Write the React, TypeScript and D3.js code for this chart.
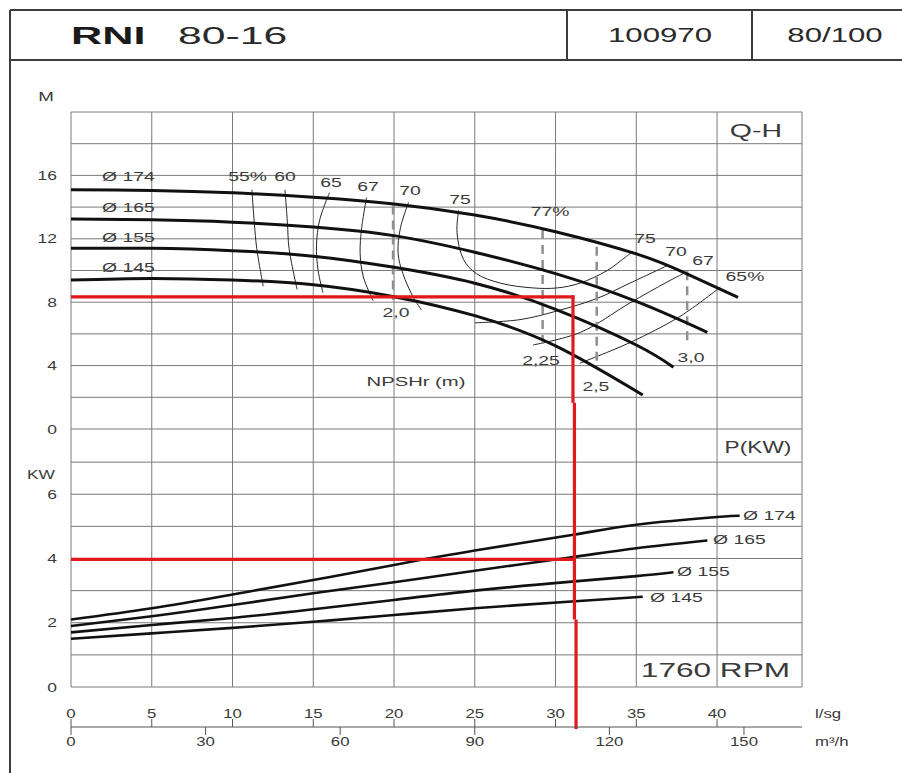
import React from 'react';
import * as d3 from 'd3';

// ---------- data ----------
const flowTicksLs = [0, 5, 10, 15, 20, 25, 30, 35, 40];
const flowTicksM3h = [0, 30, 60, 90, 120, 150];
const headTicks = [0, 4, 8, 12, 16];
const powerTicks = [0, 2, 4, 6];
const headGridValues = [0, 2, 4, 6, 8, 10, 12, 14, 16, 18, 20];
const powerGridValues = [0, 1, 2, 3, 4, 5, 6, 7];

const diameterNames = ['Ø 174', 'Ø 165', 'Ø 155', 'Ø 145'];

// Q (l/s), H (m)
const head174 = [[0, 15.1], [5, 15.05], [10, 14.9], [15, 14.62], [20, 14.2], [25, 13.5], [30, 12.45], [35, 11.05], [38, 9.85], [41.3, 8.3]];
const head165 = [[0, 13.25], [5, 13.2], [10, 13.05], [15, 12.75], [20, 12.2], [25, 11.15], [30, 9.8], [35, 8.05], [39.4, 6.1]];
const head155 = [[0, 11.4], [5, 11.4], [10, 11.25], [15, 10.9], [20, 10.2], [25, 9.2], [30, 7.55], [35, 5.3], [37.3, 3.9]];
const head145 = [[0, 9.4], [5, 9.5], [10, 9.4], [15, 9.1], [20, 8.35], [25, 7.15], [30, 5.25], [35.4, 2.15]];

// Q (l/s), P (kW)
const power174 = [[0, 2.1], [5, 2.45], [10, 2.88], [15, 3.33], [20, 3.8], [25, 4.25], [31, 4.73], [35, 5.05], [40, 5.29], [41.4, 5.33]];
const power165 = [[0, 1.9], [5, 2.2], [10, 2.55], [15, 2.92], [20, 3.26], [25, 3.62], [31, 4.04], [35, 4.32], [39.4, 4.56]];
const power155 = [[0, 1.7], [5, 1.93], [10, 2.15], [15, 2.42], [20, 2.71], [25, 3.0], [31, 3.28], [35, 3.45], [37.3, 3.57]];
const power145 = [[0, 1.5], [5, 1.67], [10, 1.84], [15, 2.03], [20, 2.24], [25, 2.45], [31, 2.66], [35.4, 2.81]];

// efficiency iso-lines (Q, H)
const eff55 = [[11.2, 15.1], [11.35, 13.0], [11.5, 11.4], [11.9, 9.0]];
const eff60 = [[13.25, 15.1], [13.4, 13.0], [13.5, 11.4], [14.0, 8.8]];
const eff65a = [[16.0, 14.9], [15.4, 13.2], [15.2, 11.6], [15.3, 10.0], [15.6, 8.6]];
const eff67a = [[18.3, 14.6], [18.0, 12.7], [17.9, 11.1], [18.1, 9.6], [18.7, 8.1]];
const eff70a = [[20.9, 14.3], [20.4, 12.7], [20.25, 11.1], [20.55, 9.8], [21.2, 8.3], [21.7, 7.5]];
const eff75 = [[24.0, 13.8], [23.9, 12.4], [24.3, 10.7], [25.1, 9.8], [26.6, 9.2], [28.6, 8.9], [30.1, 8.9], [31.5, 9.2], [33.2, 10.0], [34.4, 10.9], [34.8, 11.2]];
const eff70b = [[25.0, 6.7], [27.8, 6.9], [30.1, 7.45], [32.6, 8.25], [34.6, 9.2], [36.9, 10.3]];
const eff67b = [[28.6, 5.3], [31.55, 6.1], [34.6, 7.95], [36.9, 9.27], [38.1, 9.9]];
const eff65b = [[31.5, 4.15], [34.6, 5.45], [37.7, 7.1], [40.2, 8.95]];

const effLabelText = ['55%', '60', '65', '67', '70', '75', '77%', '75', '70', '67', '65%'];
const effLabelQ = [10.93, 13.25, 16.1, 18.39, 20.99, 24.09, 29.66, 35.54, 37.46, 39.13, 41.73];
const effLabelH = [15.9, 15.9, 15.55, 15.27, 15.02, 14.51, 13.75, 12.05, 11.17, 10.6, 9.65];

// NPSH required markers
const npshText = ['2,0', '2,25', '2,5', '3,0'];
const npshQ = [19.94, 29.2, 32.55, 38.15];
const npshTop = [14.1, 12.55, 11.5, 9.95];
const npshBottom = [8.15, 5.15, 3.9, 5.45];
const npshLabelQ = [20.12, 29.1, 32.5, 38.39];
const npshLabelH = [7.38, 4.35, 2.71, 4.48];

const headLabelQ = 1.92;
const headLabelH = [15.93, 14.0, 12.11, 10.22];
const powerLabelQ = [41.61, 39.75, 37.52, 35.85];
const powerLabelP = [5.33, 4.58, 3.61, 2.8];

// duty point
const dutyHead = 8.33;
const dutyPower = 3.97;
const dutyQ = [31.08, 31.17, 31.27];
const dutyBreakHead = 1.65;
const dutyBreakPower = 2.1;

// ---------- layout ----------
const W = 902;
const H = 773;
const FONT = "'Liberation Sans', Arial, Helvetica, sans-serif";

const x = d3.scaleLinear().domain([0, 45.26]).range([71, 802]);
const xM3h = d3.scaleLinear().domain([0, 45.26 * 3.6]).range([71, 802]);
const yH = d3.scaleLinear().domain([0, 20]).range([429, 112]);
const yP = d3.scaleLinear().domain([0, 8]).range([687, 430]);
const axisY = 727;

const lineEff = d3.line<number[]>().x(d => x(d[0])).y(d => yH(d[1])).curve(d3.curveCatmullRom.alpha(0.5));
const lineH = d3.line<number[]>().x(d => x(d[0])).y(d => yH(d[1])).curve(d3.curveNatural);
const lineP = d3.line<number[]>().x(d => x(d[0])).y(d => yP(d[1])).curve(d3.curveNatural);

function Txt(props: any) {
  const { x, y, s = 12.5, sx = 1.5, anchor = 'start', w = 400, fill = '#3a3a3a', children } = props;
  return (
    <text
      transform={`translate(${x},${y}) scale(${sx},1)`}
      fontSize={s}
      fontWeight={w}
      textAnchor={anchor}
      fill={fill}
      fontFamily={FONT}
    >
      {children}
    </text>
  );
}

export default function App() {
  const headCurves = [head174, head165, head155, head145];
  const powerCurves = [power174, power165, power155, power145];
  const effLines = [eff55, eff60, eff65a, eff67a, eff70a, eff75, eff70b, eff67b, eff65b];
  const gridColor = '#7a7a7a';
  const red = '#e0191f';

  return (
    <svg width={W} height={H} viewBox={`0 0 ${W} ${H}`} style={{ position: 'absolute', left: 0, top: 0, background: '#fff' }}>
      <rect x={0} y={0} width={W} height={H} fill="#fff" />

      {/* frame and header */}
      <g stroke="#3c3c3c" strokeWidth={2} fill="none">
        <line x1={10} y1={10} x2={W} y2={10} />
        <line x1={10} y1={60} x2={W} y2={60} />
        <line x1={10} y1={10} x2={10} y2={H} />
        <line x1={567} y1={10} x2={567} y2={60} />
        <line x1={752} y1={10} x2={752} y2={60} />
      </g>
      <Txt x={71} y={44} s={24} sx={1.8} w={900} fill="#1a1a1a">RNI</Txt>
      <Txt x={178} y={44} s={24} sx={1.78} fill="#2a2a2a">80-16</Txt>
      <Txt x={660} y={42} s={19.5} sx={1.6} anchor="middle" fill="#2a2a2a">100970</Txt>
      <Txt x={835} y={42} s={19.5} sx={1.6} anchor="middle" fill="#2a2a2a">80/100</Txt>

      {/* grid */}
      <g stroke={gridColor} strokeWidth={1}>
        {headGridValues.map(v => (
          <line key={'hg' + v} x1={x(0)} x2={x.range()[1]} y1={yH(v)} y2={yH(v)} />
        ))}
        {powerGridValues.map(v => (
          <line key={'pg' + v} x1={x(0)} x2={x.range()[1]} y1={yP(v)} y2={yP(v)} />
        ))}
        {flowTicksLs.map(v => (
          <line key={'vg' + v} x1={x(v)} x2={x(v)} y1={yH(20)} y2={yP(0)} />
        ))}
        <line x1={x.range()[1]} x2={x.range()[1]} y1={yH(20)} y2={yP(0)} />
      </g>

      {/* axis labels left */}
      <Txt x={46} y={101} s={12.5} sx={1.5} anchor="middle">M</Txt>
      {headTicks.map(v => (
        <Txt key={'ht' + v} x={57} y={yH(v) + 4.5} s={12.5} sx={1.4} anchor="end">{v}</Txt>
      ))}
      <Txt x={55} y={479} s={12} sx={1.45} anchor="end">KW</Txt>
      {powerTicks.map(v => (
        <Txt key={'pt' + v} x={57} y={yP(v) + 4.5} s={12.5} sx={1.4} anchor="end">{v}</Txt>
      ))}

      {/* corner labels */}
      <Txt x={756} y={137} s={19} sx={1.5} anchor="middle">Q-H</Txt>
      <Txt x={758} y={453} s={16} sx={1.42} anchor="middle">P(KW)</Txt>
      <Txt x={790} y={677} s={20.5} sx={1.54} anchor="end">1760 RPM</Txt>

      {/* efficiency iso-lines */}
      <g fill="none" stroke="#262626" strokeWidth={1}>
        {effLines.map((d, i) => (
          <path key={'eff' + i} d={lineEff(d) || ''} />
        ))}
      </g>

      {/* NPSH markers */}
      <g stroke="#8f8f8f" strokeWidth={2.5} strokeDasharray="9 6">
        {npshQ.map((q, i) => (
          <line key={'np' + i} x1={x(q)} x2={x(q)} y1={yH(npshTop[i])} y2={yH(npshBottom[i])} />
        ))}
      </g>

      {/* head curves */}
      <g fill="none" stroke="#111" strokeWidth={3} strokeLinecap="butt">
        {headCurves.map((d, i) => (
          <path key={'hc' + i} d={lineH(d) || ''} />
        ))}
      </g>

      {/* power curves */}
      <g fill="none" stroke="#111" strokeWidth={2.6}>
        {powerCurves.map((d, i) => (
          <path key={'pc' + i} d={lineP(d) || ''} />
        ))}
      </g>

      {/* labels */}
      {effLabelText.map((t, i) => (
        <Txt key={'el' + i} x={x(effLabelQ[i])} y={yH(effLabelH[i]) + 4.5} s={12.5} sx={1.55} anchor="middle">{t}</Txt>
      ))}
      {npshText.map((t, i) => (
        <Txt key={'nl' + i} x={x(npshLabelQ[i])} y={yH(npshLabelH[i]) + 4.5} s={12.5} sx={1.55} anchor="middle">{t}</Txt>
      ))}
      <Txt x={x(21.36)} y={yH(3.03) + 5} s={13.5} sx={1.5} anchor="middle">NPSHr (m)</Txt>
      {diameterNames.map((t, i) => (
        <Txt key={'dh' + i} x={x(headLabelQ)} y={yH(headLabelH[i]) + 4.5} s={12.5} sx={1.55}>{t}</Txt>
      ))}
      {diameterNames.map((t, i) => (
        <Txt key={'dp' + i} x={x(powerLabelQ[i])} y={yP(powerLabelP[i]) + 4.5} s={12.5} sx={1.55}>{t}</Txt>
      ))}

      {/* duty point red lines */}
      <g stroke={red} strokeWidth={3.2} fill="none">
        <line x1={x(0)} x2={x(dutyQ[0]) + 1.5} y1={yH(dutyHead)} y2={yH(dutyHead)} />
        <line x1={x(0)} x2={x(dutyQ[1]) + 1.5} y1={yP(dutyPower)} y2={yP(dutyPower)} />
        <line x1={x(dutyQ[0])} x2={x(dutyQ[0])} y1={yH(dutyHead) - 1.5} y2={yH(dutyBreakHead)} />
        <line x1={x(dutyQ[1])} x2={x(dutyQ[1])} y1={yH(dutyBreakHead)} y2={yP(dutyBreakPower)} />
        <line x1={x(dutyQ[2])} x2={x(dutyQ[2])} y1={yP(dutyBreakPower)} y2={axisY + 2} />
      </g>

      {/* bottom double axis */}
      <g stroke="#555" strokeWidth={1}>
        <line x1={x(0)} x2={x.range()[1]} y1={axisY} y2={axisY} />
        {flowTicksLs.map(v => (
          <line key={'lt' + v} x1={x(v)} x2={x(v)} y1={axisY - 8} y2={axisY} />
        ))}
        {flowTicksM3h.map(v => (
          <line key={'mt' + v} x1={xM3h(v)} x2={xM3h(v)} y1={axisY} y2={axisY + 8} />
        ))}
      </g>
      {flowTicksLs.map(v => (
        <Txt key={'ll' + v} x={x(v)} y={718} s={12} sx={1.4} anchor="middle">{v}</Txt>
      ))}
      {flowTicksM3h.map(v => (
        <Txt key={'ml' + v} x={xM3h(v)} y={746} s={12} sx={1.4} anchor="middle">{v}</Txt>
      ))}
      <Txt x={815} y={718} s={12} sx={1.4}>l/sg</Txt>
      <Txt x={815} y={746} s={12} sx={1.4}>m³/h</Txt>
    </svg>
  );
}
